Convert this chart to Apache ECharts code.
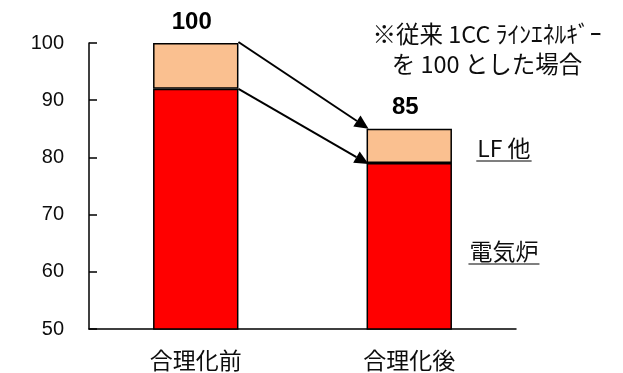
<!DOCTYPE html>
<html>
<head>
<meta charset="utf-8">
<script src="https://cdn.jsdelivr.net/npm/echarts@6/dist/echarts.min.js"></script>
<style>
  html, body { margin: 0; padding: 0; background: #fff; }
  #chart { width: 623px; height: 373px; }
</style>
</head>
<body>
<div id="chart"></div>
<script>
// Energy index per 1CC line (conventional = 100)
const categories = ['合理化前', '合理化後'];
const furnaceValues = [92, 79];   // 電気炉
const ladleValues = [8, 6];       // LF 他
const seriesNames = ['電気炉', 'LF 他'];
const yMin = 50;
const yMax = 100;
const yStep = 10;
const noteLines = ['※従来 1CC ﾗｲﾝｴﾈﾙｷﾞｰ', 'を 100 とした場合'];

const totals = furnaceValues.map((v, i) => v + ladleValues[i]);

const CJK = '"Noto Sans CJK JP", sans-serif';
const LATIN = '"Liberation Sans", Arial, sans-serif';
const CJK_SIZE = 23;
const BAR_RATIO = 0.4;

const chart = echarts.init(document.getElementById('chart'), null, { renderer: 'canvas' });

const barBorder = { borderColor: '#000', borderWidth: 1.5 };

chart.setOption({
  animation: false,
  backgroundColor: '#fff',
  grid: { left: 89, right: 107, top: 43, bottom: 44, containLabel: false },
  xAxis: {
    type: 'category',
    data: categories,
    axisLine: { lineStyle: { color: '#000', width: 1.5 } },
    axisTick: { inside: true, length: 7, lineStyle: { color: '#000', width: 1.5 } },
    axisLabel: { color: '#0d0d0d', fontFamily: CJK, fontSize: CJK_SIZE, margin: 20 }
  },
  yAxis: {
    type: 'value',
    min: yMin, max: yMax, interval: yStep,
    axisLine: { show: true, lineStyle: { color: '#000', width: 1.5 } },
    axisTick: { show: true, inside: true, length: 8, lineStyle: { color: '#000', width: 1.5 } },
    splitLine: { show: false },
    axisLabel: { color: '#0d0d0d', fontFamily: LATIN, fontSize: 20, margin: 25 }
  },
  series: [
    {
      name: seriesNames[0], type: 'bar', stack: 'total', barWidth: (BAR_RATIO * 100) + '%',
      data: furnaceValues,
      itemStyle: Object.assign({ color: '#ff0000' }, barBorder)
    },
    {
      name: seriesNames[1], type: 'bar', stack: 'total', barWidth: (BAR_RATIO * 100) + '%',
      data: ladleValues,
      itemStyle: Object.assign({ color: '#fac090' }, barBorder),
      label: {
        show: true, position: 'top', distance: 9, offset: [-4, 0],
        formatter: p => String(totals[p.dataIndex]),
        fontFamily: LATIN, fontWeight: 'bold', fontSize: 24, color: '#000'
      }
    }
  ]
});

// Overlay: arrows between bars, segment captions with underline, note text
const px = (c, v) => chart.convertToPixel({ gridIndex: 0 }, [c, v]);
const x0 = px(0, yMin)[0];
const x1 = px(1, yMin)[0];
const halfBar = (x1 - x0) * BAR_RATIO / 2;

function arrow(from, to) {
  const dx = to[0] - from[0], dy = to[1] - from[1];
  const len = Math.sqrt(dx * dx + dy * dy);
  const ux = dx / len, uy = dy / len;
  const headLen = 14, headHalf = 6.5;
  const bx = to[0] - ux * headLen, by = to[1] - uy * headLen;
  return [
    { type: 'line', shape: { x1: from[0], y1: from[1], x2: bx, y2: by },
      style: { stroke: '#000', lineWidth: 2 }, z: 100 },
    { type: 'polygon',
      shape: { points: [to, [bx - uy * headHalf, by + ux * headHalf], [bx + uy * headHalf, by - ux * headHalf]] },
      style: { fill: '#000' }, z: 100 }
  ];
}

const measure = document.createElement('canvas').getContext('2d');
function underlined(text, cx, cy) {
  const font = CJK_SIZE + 'px ' + CJK;
  measure.font = font;
  const w = measure.measureText(text).width;
  return [
    { type: 'text', style: { text, x: cx, y: cy, font, fill: '#0d0d0d', textAlign: 'center', textVerticalAlign: 'middle' }, z: 100 },
    { type: 'line', shape: { x1: cx - w / 2 - 1, y1: cy + 13, x2: cx + w / 2 + 1, y2: cy + 13 },
      style: { stroke: '#555', lineWidth: 1.5 }, z: 100 }
  ];
}

const graphics = [];
graphics.push(...arrow([x0 + halfBar, px(0, totals[0])[1] - 1], [x1 - halfBar + 2, px(1, totals[1])[1]]));
graphics.push(...arrow([x0 + halfBar, px(0, furnaceValues[0])[1]], [x1 - halfBar + 2, px(1, furnaceValues[1])[1] + 1]));

const capX = x1 + halfBar + 52;
graphics.push(...underlined(seriesNames[1], capX, (px(1, totals[1])[1] + px(1, furnaceValues[1])[1]) / 2 + 2));
graphics.push(...underlined(seriesNames[0], capX, (px(1, furnaceValues[1])[1] + px(1, yMin)[1]) / 2 + 5));

noteLines.forEach((t, i) => {
  graphics.push({ type: 'text',
    style: { text: t, x: 487, y: 34 + i * 30, font: '23.5px ' + CJK, fill: '#0d0d0d', textAlign: 'center', textVerticalAlign: 'middle' },
    z: 100 });
});

chart.setOption({ graphic: graphics });
</script>
</body>
</html>
